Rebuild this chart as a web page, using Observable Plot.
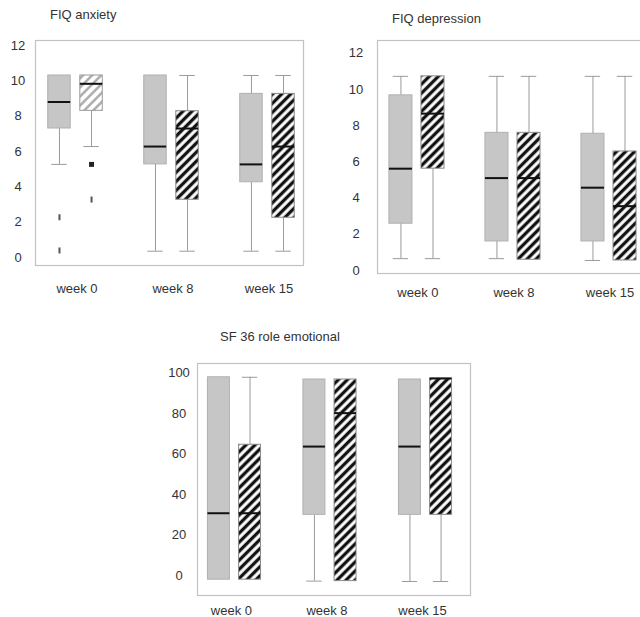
<!DOCTYPE html>
<html>
<head>
<meta charset="utf-8">
<script src="https://cdn.jsdelivr.net/npm/d3@7"></script>
<script src="https://cdn.jsdelivr.net/npm/@observablehq/plot@0.6"></script>
<style>
  html, body { margin: 0; padding: 0; background: #fff; overflow: hidden; }
  #root { position: relative; width: 640px; height: 617px; overflow: hidden; font-family: "Liberation Sans", Arial, sans-serif; color: #333; }
  .title { position: absolute; font-size: 13px; white-space: nowrap; color: #333; }
  .panel { position: absolute; }
  .panel svg { max-width: none !important; }
</style>
</head>
<body>
<svg width="0" height="0" style="position:absolute">
  <defs>
    <pattern id="hatch" patternUnits="userSpaceOnUse" width="6.4" height="6.4" patternTransform="rotate(45)">
      <rect width="6.4" height="6.4" fill="#fff"></rect>
      <rect x="1.6" width="3.3" height="6.4" fill="#111"></rect>
    </pattern>
    <pattern id="hatchLight" patternUnits="userSpaceOnUse" width="6.4" height="6.4" patternTransform="rotate(45)">
      <rect width="6.4" height="6.4" fill="#fff"></rect>
      <rect x="2" width="2.4" height="6.4" fill="#a8a8a8"></rect>
    </pattern>
  </defs>
</svg>
<div id="root"></div>
<script>
// ---- categories ----
const weeks = ["week 0", "week 8", "week 15"];

// ---- FIQ anxiety (gray = group A, hatched = group B) ----
const anxALow  = [5.27, 0.36, 0.36];
const anxAQ1   = [7.3, 5.27, 4.26];
const anxAMed  = [8.8, 6.28, 5.27];
const anxAQ3   = [10.3, 10.3, 9.26];
const anxAHigh = [10.3, 10.3, 10.3];
const anxBLow  = [6.28, 0.36, 0.36];
const anxBQ1   = [8.3, 3.27, 2.25];
const anxBMed  = [9.83, 7.3, 6.28];
const anxBQ3   = [10.3, 8.28, 9.26];
const anxBHigh = [10.3, 10.3, 10.3];
const anxOutlierWeek   = [0, 0, 0, 0];
const anxOutlierGroup  = ["A", "A", "B", "B"];
const anxOutlierValue  = [2.28, 0.4, 5.27, 3.28];
const anxOutlierKind   = ["dash", "dash", "square", "dash"];

// ---- FIQ depression ----
const depALow  = [0.65, 0.65, 0.55];
const depAQ1   = [2.58, 1.6, 1.6];
const depAMed  = [5.62, 5.1, 4.57];
const depAQ3   = [9.67, 7.6, 7.55];
const depAHigh = [10.72, 10.72, 10.72];
const depBLow  = [0.65, 0.59, 0.55];
const depBQ1   = [5.62, 0.59, 0.55];
const depBMed  = [8.66, 5.1, 3.55];
const depBQ3   = [10.72, 7.6, 6.57];
const depBHigh = [10.72, 10.72, 10.72];

// ---- SF 36 role emotional ----
const sfALow  = [-2.1, -2.8, -3];
const sfAQ1   = [-2.1, 29.9, 29.9];
const sfAMed  = [30.7, 63.6, 63.6];
const sfAQ3   = [97.8, 96.7, 96.7];
const sfAHigh = [97.8, 96.7, 96.7];
const sfBLow  = [-2.1, -2.8, -3];
const sfBQ1   = [-2.1, -2.8, 29.9];
const sfBMed  = [30.7, 80.1, 97.2];
const sfBQ3   = [64.5, 96.7, 97.2];
const sfBHigh = [97.8, 96.7, 97.2];

// ---- tick labels ----
const ticksFIQ = [0, 2, 4, 6, 8, 10, 12];
const ticksSF = [0, 20, 40, 60, 80, 100];

function buildStats(group, low, q1, med, q3, high) {
  return weeks.map((w, i) => ({i, group, low: low[i], q1: q1[i], med: med[i], q3: q3[i], high: high[i]}));
}

const dashSymbol = {draw(ctx) { ctx.moveTo(-1, -3); ctx.lineTo(1, -3); ctx.lineTo(1, 3); ctx.lineTo(-1, 3); ctx.closePath(); }};

function panel(o) {
  const OFF = o.off, HW = o.hw, CAP = o.cap;
  const px = d => d.i + (d.group === "A" ? -OFF : OFF);
  const stats = o.stats;
  const A = stats.filter(d => d.group === "A");
  const B = stats.filter(d => d.group === "B");
  const whiskerColor = "#9a9a9a";
  const light = o.lightWeeks || [];
  const marks = [
    Plot.frame({stroke: "#c2c2c2", strokeWidth: 1.2}),
    Plot.ruleX(stats.filter(d => d.high > d.q3), {x: px, y1: "q3", y2: "high", stroke: whiskerColor}),
    Plot.ruleX(stats.filter(d => d.low < d.q1), {x: px, y1: "low", y2: "q1", stroke: whiskerColor}),
    Plot.ruleY(stats.filter(d => d.high > d.q3), {y: "high", x1: d => px(d) - CAP, x2: d => px(d) + CAP, stroke: whiskerColor}),
    Plot.ruleY(stats.filter(d => d.low < d.q1), {y: "low", x1: d => px(d) - CAP, x2: d => px(d) + CAP, stroke: whiskerColor}),
    Plot.rect(A, {x1: d => px(d) - HW, x2: d => px(d) + HW, y1: "q1", y2: "q3", fill: "#c6c6c6", stroke: "#b0b0b0", strokeWidth: 1}),
    Plot.rect(B.filter(d => !light.includes(d.i)), {x1: d => px(d) - HW, x2: d => px(d) + HW, y1: "q1", y2: "q3", fill: "url(#hatch)", stroke: "#8a8a8a", strokeWidth: 1}),
    Plot.rect(B.filter(d => light.includes(d.i)), {x1: d => px(d) - HW, x2: d => px(d) + HW, y1: "q1", y2: "q3", fill: "url(#hatchLight)", stroke: "#9a9a9a", strokeWidth: 1}),
    Plot.ruleY(stats, {y: "med", x1: d => px(d) - HW, x2: d => px(d) + HW, stroke: "#111", strokeWidth: 2}),
    Plot.axisY({ticks: o.yTicks, tickSize: 0, tickPadding: o.yPad, textAnchor: "middle", fontSize: 13, fill: "#333"}),
    Plot.axisX({ticks: [0, 1, 2], tickFormat: i => weeks[i], tickSize: 0, tickPadding: o.xPad, fontSize: 13, fill: "#333", dx: o.xdx || 0})
  ];
  if (o.outliers) {
    const out = o.outliers;
    marks.push(Plot.dot(out.filter(d => d.kind === "dash"), {x: px, y: "v", symbol: dashSymbol, fill: "#555", stroke: "none", r: 3}));
    marks.push(Plot.dot(out.filter(d => d.kind === "square"), {x: px, y: "v", symbol: "square", fill: "#222", stroke: "none", r: 2.8}));
  }
  const chart = Plot.plot({
    width: o.width, height: o.height,
    marginLeft: o.ml, marginRight: o.mr, marginTop: o.mt, marginBottom: o.mb,
    x: {type: "linear", domain: o.xDomain},
    y: {type: "linear", domain: o.yDomain},
    style: {fontFamily: "'Liberation Sans', Arial, sans-serif", fontSize: "13px", color: "#333", background: "transparent", overflow: "visible", maxWidth: "none"},
    marks
  });
  chart.style.maxWidth = "none";
  chart.style.width = o.width + "px";
  chart.style.height = o.height + "px";
  const div = document.createElement("div");
  div.className = "panel";
  div.style.left = o.left + "px";
  div.style.top = o.top + "px";
  div.style.width = o.width + "px";
  div.style.height = o.height + "px";
  div.appendChild(chart);
  document.getElementById("root").appendChild(div);
  const t = document.createElement("div");
  t.className = "title";
  t.textContent = o.title;
  t.style.left = o.titleX + "px";
  t.style.top = o.titleY + "px";
  document.getElementById("root").appendChild(t);
}

const anxOutliers = anxOutlierValue.map((v, k) => ({i: anxOutlierWeek[k], group: anxOutlierGroup[k], v, kind: anxOutlierKind[k]}));

panel({
  title: "FIQ anxiety", titleX: 50, titleY: 7,
  left: 0, top: 0, width: 320, height: 310, ml: 35, mr: 17, mt: 40, mb: 45,
  xDomain: [-0.4167, 2.375], yDomain: [-0.45, 12.28], yTicks: ticksFIQ, yPad: 17.5, xPad: 18, xdx: 1.5,
  off: 0.167, hw: 0.117, cap: 0.08,
  stats: [...buildStats("A", anxALow, anxAQ1, anxAMed, anxAQ3, anxAHigh), ...buildStats("B", anxBLow, anxBQ1, anxBMed, anxBQ3, anxBHigh)],
  outliers: anxOutliers, lightWeeks: [0]
});

panel({
  title: "FIQ depression", titleX: 392, titleY: 11,
  left: 320, top: 0, width: 330, height: 310, ml: 57, mr: 5.5, mt: 40, mb: 37,
  xDomain: [-0.411, 2.375], yDomain: [-0.17, 12.7], yTicks: ticksFIQ, yPad: 21.5, xPad: 14, xdx: 1,
  off: 0.167, hw: 0.12, cap: 0.08,
  stats: [...buildStats("A", depALow, depAQ1, depAMed, depAQ3, depAHigh), ...buildStats("B", depBLow, depBQ1, depBMed, depBQ3, depBHigh)]
});

panel({
  title: "SF 36 role emotional", titleX: 220, titleY: 329,
  left: 150, top: 310, width: 330, height: 307, ml: 47, mr: 10, mt: 53, mb: 22,
  xDomain: [-0.387, 2.471], yDomain: [-9.9, 104.6], yTicks: ticksSF, yPad: 18.5, xPad: 10, xdx: -3,
  off: 0.163, hw: 0.115, cap: 0.08,
  stats: [...buildStats("A", sfALow, sfAQ1, sfAMed, sfAQ3, sfAHigh), ...buildStats("B", sfBLow, sfBQ1, sfBMed, sfBQ3, sfBHigh)]
});
</script>
</body>
</html>
